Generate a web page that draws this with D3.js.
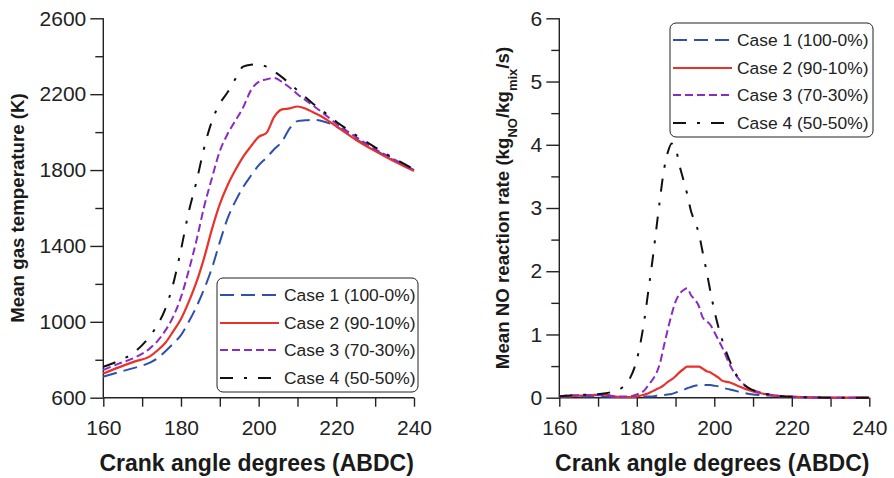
<!DOCTYPE html>
<html>
<head>
<meta charset="utf-8">
<script src="https://cdn.jsdelivr.net/npm/d3@7"></script>
<style>
  body { margin: 0; background: #fff; }
  svg { display: block; font-family: "Liberation Sans", Arial, Helvetica, sans-serif; }
  .axis path, .axis line { stroke: #222; stroke-width: 1.4; }
  .axis text { fill: #222; font-size: 21px; }
</style>
</head>
<body>
<svg id="chart" width="894" height="478"></svg>
<script>
// ---- data ------------------------------------------------------------
var caseNames = ["Case 1 (100-0%)", "Case 2 (90-10%)", "Case 3 (70-30%)", "Case 4 (50-50%)"];
var caseColors = ["#2f4fae", "#e8322a", "#8a2cc4", "#111111"];
var caseDashes = ["14,7", null, "8,4", "13,11,3,11"];

// left panel: mean gas temperature (K)
var tempAngle = [160,164,168,172,174,176,178,180,182,184,186,188,190,192,194,196,198,200,202,204,206,208,210,212,214,216,220,225,230,235,240];
var tempCase1 = [711,735,757,785,808,845,885,930,1000,1080,1175,1285,1420,1545,1635,1710,1770,1825,1865,1910,1950,2020,2058,2062,2065,2060,2030,1965,1905,1850,1800];
var tempCase2 = [728,760,790,818,850,890,950,1015,1105,1210,1340,1490,1620,1720,1800,1870,1925,1975,1995,2080,2120,2125,2135,2125,2105,2085,2030,1960,1900,1845,1795];
var tempCase3 = [746,780,810,860,900,955,1027,1130,1270,1430,1610,1760,1900,1990,2060,2130,2220,2265,2278,2285,2265,2235,2200,2170,2140,2110,2045,1975,1910,1855,1800];
var tempCase4 = [763,795,840,925,985,1070,1200,1380,1580,1740,1920,2060,2150,2210,2280,2345,2355,2357,2345,2320,2290,2255,2220,2185,2150,2120,2055,1985,1920,1860,1805];

// right panel: mean NO reaction rate
var noAngle = [160,164,168,172,174,176,178,180,182,183,184,185,186,187,188,189,190,191,192,193,194,195,196,197,198,199,200,201,202,204,206,208,210,212,215,218,222,230,240];
var noCase1 = [0.01,0.02,0.02,0.02,0.01,0.01,0.01,0.01,0.02,0.02,0.02,0.03,0.03,0.04,0.05,0.06,0.08,0.10,0.12,0.15,0.17,0.19,0.20,0.20,0.20,0.20,0.19,0.18,0.16,0.13,0.10,0.07,0.05,0.04,0.03,0.02,0.01,0,0];
var noCase2 = [0.02,0.03,0.04,0.05,0.02,0.01,0.01,0.02,0.05,0.07,0.10,0.13,0.16,0.20,0.25,0.29,0.34,0.40,0.45,0.49,0.49,0.49,0.49,0.46,0.42,0.40,0.36,0.32,0.27,0.24,0.19,0.14,0.10,0.07,0.04,0.02,0.01,0,0];
var noCase3 = [0.02,0.04,0.04,0.04,0.02,0.02,0.02,0.05,0.12,0.20,0.28,0.38,0.55,0.82,1.08,1.32,1.52,1.64,1.70,1.73,1.62,1.55,1.45,1.27,1.21,1.15,1.04,0.92,0.80,0.52,0.32,0.19,0.12,0.08,0.04,0.02,0.01,0,0];
var noCase4 = [0.02,0.04,0.05,0.07,0.10,0.15,0.28,0.60,1.25,1.70,2.15,2.65,3.15,3.60,3.88,4.02,3.95,3.68,3.45,3.22,2.95,2.78,2.60,2.30,2.00,1.68,1.38,1.13,0.92,0.58,0.33,0.19,0.12,0.08,0.04,0.02,0.01,0,0];

var xTicks = [160, 180, 200, 220, 240];
var tempTicks = [600, 1000, 1400, 1800, 2200, 2600];
var noTicks = [0, 1, 2, 3, 4, 5, 6];

// ---- drawing -----------------------------------------------------------
var svg = d3.select("#chart");
var Y_TOP = 18.3, Y_BOT = 397.7;

function drawPanel(opt) {
  var x = d3.scaleLinear().domain([160, 240]).range([opt.left, opt.right]);
  var y = d3.scaleLinear().domain(opt.yDomain).range([Y_BOT, Y_TOP]);
  var g = svg.append("g");

  // minor ticks
  var xMinor = d3.range(170, 240, 20);
  var yMinor = opt.yMinor;

  var xAxis = g.append("g").attr("class", "axis")
    .attr("transform", "translate(0," + Y_BOT + ")")
    .call(d3.axisBottom(x).tickValues(xTicks).tickSize(9).tickPadding(6).tickFormat(d3.format("d")));
  xAxis.select(".domain").attr("d", "M" + opt.left + ",0H" + opt.right);
  xAxis.selectAll(".tick text").attr("dy", "1.05em");
  g.append("g").attr("class", "axis")
    .attr("transform", "translate(0," + Y_BOT + ")")
    .call(d3.axisBottom(x).tickValues(xMinor).tickSize(9).tickFormat(""))
    .select(".domain").remove();

  var yAxis = g.append("g").attr("class", "axis")
    .attr("transform", "translate(" + opt.left + ",0)")
    .call(d3.axisLeft(y).tickValues(opt.yTicks).tickSize(13).tickPadding(4).tickFormat(d3.format("d")));
  yAxis.select(".domain").attr("d", "M0," + Y_TOP + "V" + Y_BOT);
  g.append("g").attr("class", "axis")
    .attr("transform", "translate(" + opt.left + ",0)")
    .call(d3.axisLeft(y).tickValues(yMinor).tickSize(8).tickFormat(""))
    .select(".domain").remove();

  // axis titles
  g.append("text")
    .attr("x", (opt.left + opt.right) / 2 - 2).attr("y", 471)
    .attr("text-anchor", "middle")
    .style("font-size", "23px").style("font-weight", "bold").attr("fill", "#1a1a1a")
    .text("Crank angle degrees (ABDC)");

  var yt = g.append("text")
    .attr("transform", "translate(" + opt.yTitleX + "," + opt.yTitleY + ") rotate(-90)")
    .attr("text-anchor", "middle")
    .style("font-size", "18.7px").style("font-weight", "bold").attr("fill", "#1a1a1a");
  opt.yTitle.forEach(function (p) {
    var ts = yt.append("tspan").text(p.t);
    if (p.sub) ts.attr("baseline-shift", "sub").style("font-size", "13px");
  });

  // lines
  var line = d3.line()
    .x(function (d) { return x(d[0]); })
    .y(function (d) { return y(d[1]); })
    .curve(d3.curveMonotoneX);

  opt.series.forEach(function (vals, i) {
    var pts = opt.angle.map(function (a, k) { return [a, vals[k]]; });
    g.append("path")
      .datum(pts)
      .attr("d", line)
      .attr("fill", "none")
      .attr("stroke", caseColors[i])
      .attr("stroke-width", i === 1 ? 2.2 : 2)
      .attr("stroke-dasharray", caseDashes[i]);
  });

  // legend
  var lg = g.append("g").attr("transform", "translate(" + opt.legX + "," + opt.legY + ")");
  lg.append("rect")
    .attr("width", opt.legW).attr("height", 114)
    .attr("rx", 6).attr("ry", 6)
    .attr("fill", "#fff").attr("stroke", "#222").attr("stroke-width", 1);
  var rowY = [17, 45, 72, 100];
  caseNames.forEach(function (name, i) {
    lg.append("line")
      .attr("x1", 3).attr("x2", 62)
      .attr("y1", rowY[i]).attr("y2", rowY[i])
      .attr("stroke", caseColors[i]).attr("stroke-width", 2.2)
      .attr("stroke-dasharray", caseDashes[i]);
    lg.append("text")
      .attr("x", 67).attr("y", rowY[i] + 6)
      .style("font-size", "17.4px").attr("fill", "#222")
      .text(name);
  });
}

drawPanel({
  left: 103.3, right: 414,
  yDomain: [600, 2600], yTicks: tempTicks, yMinor: d3.range(800, 2600, 400),
  angle: tempAngle, series: [tempCase1, tempCase2, tempCase3, tempCase4],
  yTitleX: 24, yTitleY: 208,
  yTitle: [{ t: "Mean gas temperature (K)" }],
  legX: 217, legY: 278, legW: 201
});

drawPanel({
  left: 559.3, right: 869.3,
  yDomain: [0, 6], yTicks: noTicks, yMinor: d3.range(0.5, 6, 1),
  angle: noAngle, series: [noCase1, noCase2, noCase3, noCase4],
  yTitleX: 509, yTitleY: 208,
  yTitle: [{ t: "Mean NO reaction rate (kg" }, { t: "NO", sub: true }, { t: "/kg" }, { t: "mix", sub: true }, { t: "/s)" }],
  legX: 670, legY: 23, legW: 203
});
</script>
</body>
</html>
